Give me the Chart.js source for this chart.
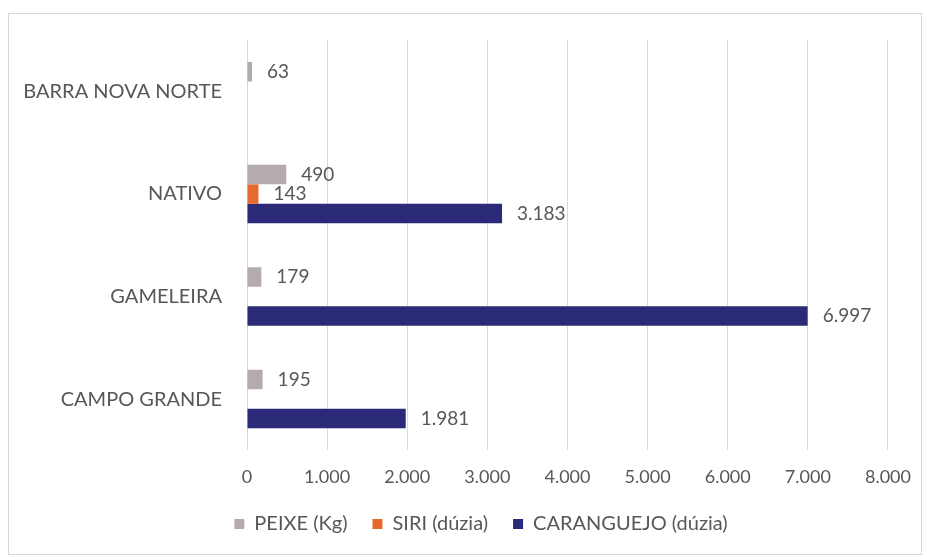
<!DOCTYPE html>
<html>
<head>
<meta charset="utf-8">
<script src="https://cdn.jsdelivr.net/npm/chart.js@4.4.1/dist/chart.umd.min.js"></script>
<style>
  html, body { margin: 0; padding: 0; background: #fff; }
  #wrap { position: relative; width: 927px; height: 560px; }
  #frame { position: absolute; left: 8px; top: 13px; width: 912px; height: 540px; border: 1px solid #d6d6d6; pointer-events: none; }
</style>
</head>
<body>
<div id="wrap">
  <canvas id="chart" width="927" height="560"></canvas>
  <div id="frame"></div>
</div>
<script>
// dados
const localidades = ['BARRA NOVA NORTE', 'NATIVO', 'GAMELEIRA', 'CAMPO GRANDE'];
const peixe = [63, 490, 179, 195];
const siri = [null, 143, null, null];
const caranguejo = [null, 3183, 6997, 1981];
const xTicks = [0, 1000, 2000, 3000, 4000, 5000, 6000, 7000, 8000];

const textColor = '#5a5558';
const fonte = 'Lato, "Open Sans", sans-serif';

function formatBR(v) {
  return String(v).replace(/\B(?=(\d{3})+(?!\d))/g, '.');
}

function createDataset(label, data, color) {
  return {
    label,
    data,
    backgroundColor: color,
    borderColor: color,
    borderWidth: 0,
    categoryPercentage: 0.57,
    barPercentage: 1.0
  };
}

// rótulos de valor no fim de cada barra
const valueLabels = {
  id: 'valueLabels',
  afterDatasetsDraw(chart) {
    const ctx = chart.ctx;
    ctx.save();
    ctx.font = '19px ' + fonte;
    ctx.fillStyle = textColor;
    ctx.textBaseline = 'middle';
    ctx.textAlign = 'left';
    chart.data.datasets.forEach((ds, i) => {
      const meta = chart.getDatasetMeta(i);
      meta.data.forEach((bar, j) => {
        const v = ds.data[j];
        if (v === null || v === undefined) return;
        ctx.fillText(formatBR(v), bar.x + 15, bar.y);
      });
    });
    ctx.restore();
  }
};

// empurra a legenda um pouco para a direita
const legendShift = {
  id: 'legendShift',
  afterLayout(chart) {
    chart.legend.left += 62;
  }
};

const ctx = document.getElementById('chart').getContext('2d');
const chart = new Chart(ctx, {
  type: 'bar',
  data: {
    labels: localidades,
    datasets: [
      createDataset('PEIXE (Kg)', peixe, '#b3abaf'),
      createDataset('SIRI (dúzia)', siri, '#e8692f'),
      createDataset('CARANGUEJO (dúzia)', caranguejo, '#2b2a78')
    ]
  },
  options: {
    indexAxis: 'y',
    responsive: false,
    animation: false,
    layout: { padding: { top: 40, left: 10, right: 37, bottom: 16 } },
    scales: {
      x: {
        min: 0,
        max: 8000,
        afterBuildTicks(scale) { scale.ticks = xTicks.map(v => ({ value: v })); },
        ticks: {
          color: textColor,
          font: { family: fonte, size: 18 },
          padding: 16,
          maxRotation: 0,
          callback: v => formatBR(v)
        },
        grid: { color: '#d9d9d9', lineWidth: 1, drawTicks: false },
        border: { display: false }
      },
      y: {
        afterFit(scale) { scale.width = 237; },
        ticks: {
          color: textColor,
          font: { family: fonte, size: 20 },
          padding: 25
        },
        grid: { display: false, drawTicks: false },
        border: { display: false }
      }
    },
    plugins: {
      legend: {
        position: 'bottom',
        labels: {
          color: textColor,
          font: { family: fonte, size: 20 },
          boxWidth: 10,
          boxHeight: 10,
          padding: 10,
          generateLabels(chart) {
            const items = Chart.defaults.plugins.legend.labels.generateLabels(chart);
            items.forEach((it, k) => {
              it.lineWidth = 0;
              if (k < items.length - 1) it.text = it.text + '\u2003';
            });
            return items;
          }
        }
      },
      tooltip: { enabled: false }
    }
  },
  plugins: [valueLabels, legendShift]
});
</script>
</body>
</html>
